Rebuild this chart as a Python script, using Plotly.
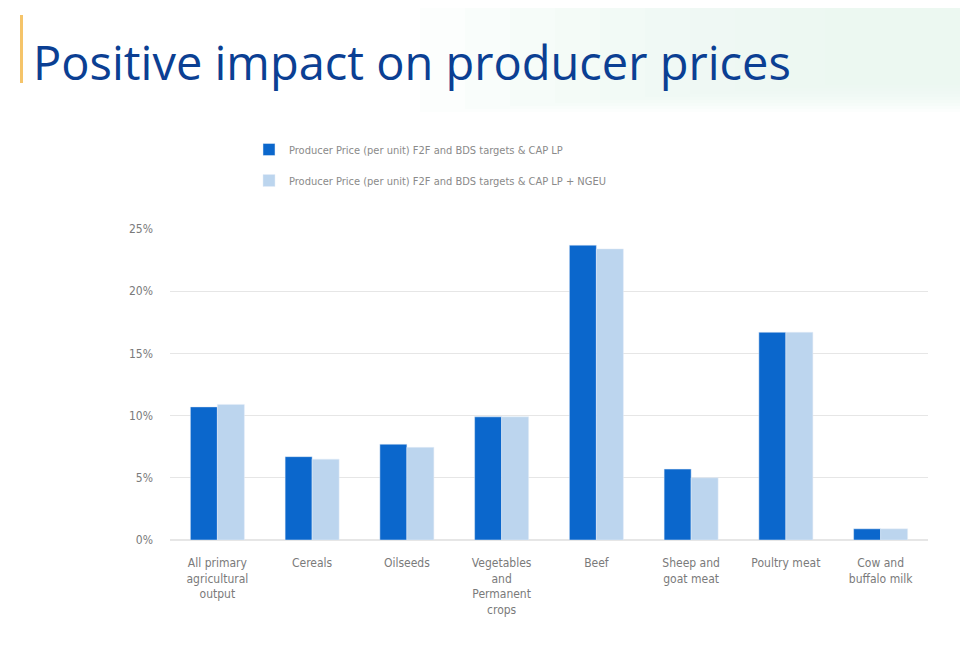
import plotly.graph_objects as go

categories = [
    "All primary<br>agricultural<br>output",
    "Cereals",
    "Oilseeds",
    "Vegetables<br>and<br>Permanent<br>crops",
    "Beef",
    "Sheep and<br>goat meat",
    "Poultry meat",
    "Cow and<br>buffalo milk",
]
series_names = [
    "Producer Price (per unit) F2F and BDS targets & CAP LP",
    "Producer Price (per unit) F2F and BDS targets & CAP LP + NGEU",
]
cap_lp = [10.7, 6.7, 7.7, 9.9, 23.7, 5.7, 16.7, 0.9]
cap_lp_ngeu = [10.9, 6.5, 7.45, 9.9, 23.4, 5.0, 16.7, 0.9]
y_ticks = [0, 5, 10, 15, 20, 25]

colors = ["#0b67cc", "#bcd5ee"]
label_font = dict(family="DejaVu Sans Condensed, Roboto, sans-serif", size=12, color="#7a7a7a")

# page has an 8px body margin, so figure is 8px smaller on each side
W, H = 960, 644
L, R, T, B = 162, 40, 221, 112
pw, ph = W - L - R, H - T - B


def px(x):
    return (x - 8 - L) / pw


def py(y):
    return 1 + (T - (y - 8)) / ph


fig = go.Figure()
for name, vals, col, grp in zip(series_names, [cap_lp, cap_lp_ngeu], colors, ["a", "b"]):
    fig.add_trace(go.Bar(x=categories, y=vals, name=name, marker_color=col,
                         legendgroup=grp))

# faint header tint, stepped to look like a soft gradient
shapes = []
for i in range(10):
    shapes.append(dict(type="rect", xref="paper", yref="paper", layer="below",
                       x0=px(420 + i * 45), x1=px(976), y0=py(112 - i * 3), y1=py(0),
                       fillcolor="rgba(228,246,240,0.13)", line_width=0))
shapes.append(dict(type="rect", xref="paper", yref="paper",
                   x0=px(20), x1=px(23), y0=py(83), y1=py(15),
                   fillcolor="#f5c46a", line_width=0))

fig.update_layout(
    width=W, height=H,
    plot_bgcolor="rgba(0,0,0,0)", paper_bgcolor="white",
    margin=dict(l=L, r=R, t=T, b=B),
    barmode="group", bargap=0.43, bargroupgap=0,
    font=label_font,
    legend=dict(x=px(249), y=py(135), xanchor="left", yanchor="top",
                font=dict(size=11, color="#8a8a8a"), tracegroupgap=12,
                itemwidth=30, bgcolor="rgba(0,0,0,0)"),
    annotations=[dict(text="Positive impact on producer prices", xref="paper", yref="paper",
                      x=px(31), y=py(62), xanchor="left", yanchor="middle",
                      showarrow=False,
                      font=dict(family="Open Sans, Noto Sans, sans-serif", size=47, color="#0b3f93"))],
    shapes=shapes,
)
fig.update_yaxes(range=[0, 25], tickvals=y_ticks, ticktext=[f"{t}%" for t in y_ticks],
                 showgrid=True, gridcolor="#e6e6e6", gridwidth=1, zeroline=True,
                 zerolinecolor="#e6e6e6", showline=False, ticks="", ticklabelstandoff=16)
fig.update_xaxes(showline=False, ticks="", tickangle=0, showgrid=False, ticklabelstandoff=14)

fig.write_html("out.html")
